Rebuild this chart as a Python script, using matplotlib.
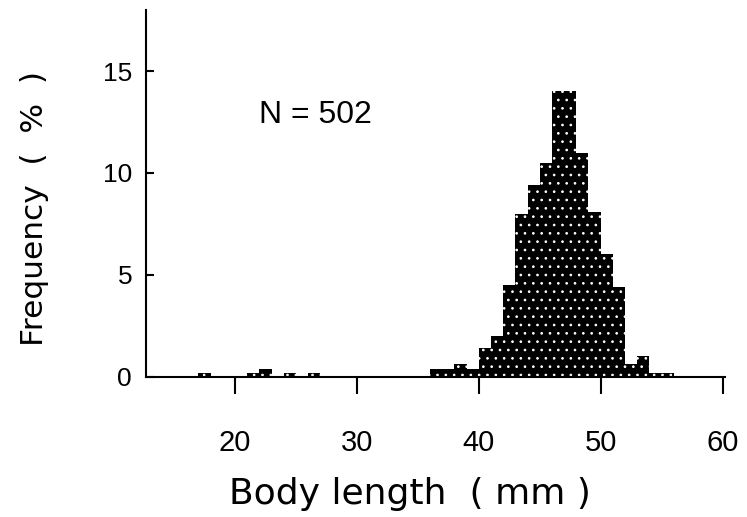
import matplotlib
matplotlib.use("Agg")
import matplotlib.pyplot as plt

# body length classes (left edge, mm) and frequency (%)
lengths = [17, 21, 22, 24, 26,
           36, 37, 38, 39, 40, 41, 42, 43, 44, 45, 46, 47,
           48, 49, 50, 51, 52, 53, 54, 55]
freq = [0.2, 0.2, 0.4, 0.2, 0.2,
        0.4, 0.4, 0.6, 0.4, 1.4, 2.0, 4.5, 8.0, 9.4, 10.5, 14.0, 14.0,
        11.0, 8.1, 6.0, 4.4, 0.6, 1.0, 0.2, 0.2]

xticks = [20, 30, 40, 50, 60]
yticks = [0, 5, 10, 15]
n_text = "N = 502"

plt.rcParams["font.family"] = ["Liberation Sans", "DejaVu Sans"]
plt.rcParams["hatch.linewidth"] = 0.7

fig = plt.figure(figsize=(7.47, 5.17), dpi=100)
ax = fig.add_axes([146 / 747, 1 - 376.7 / 517, 579 / 747, 366.7 / 517])

# black bars, then white speckles on top
ax.bar(lengths, freq, width=1, align="edge", color="black", linewidth=0)
ax.bar(lengths, freq, width=1, align="edge", facecolor="none",
       edgecolor="white", hatch="..", linewidth=0)

ax.set_xlim(12.7, 60.2)
ax.set_ylim(0, 18)
ax.spines["top"].set_visible(False)
ax.spines["right"].set_visible(False)
ax.spines["left"].set_linewidth(1.5)
ax.spines["bottom"].set_linewidth(1.5)

ax.set_xticks(xticks)
ax.set_yticks(yticks)
ax.tick_params(axis="x", direction="out", length=12, width=1.5,
               pad=26, labelsize=21)
ax.tick_params(axis="y", direction="in", length=6, width=1.5,
               pad=10, labelsize=19)

ax.text(26.6, 12.84, n_text, fontsize=23, ha="center", va="center")

fig.text(35 / 747, 1 - 208 / 517, "Frequency  (  %  )", rotation=90,
         ha="center", va="center", fontsize=22.5, family="DejaVu Sans")
fig.text(410 / 747, 1 - 504 / 517, "Body length  ( mm )",
         ha="center", va="baseline", fontsize=26, family="DejaVu Sans")

fig.savefig("out.png", dpi=100)
